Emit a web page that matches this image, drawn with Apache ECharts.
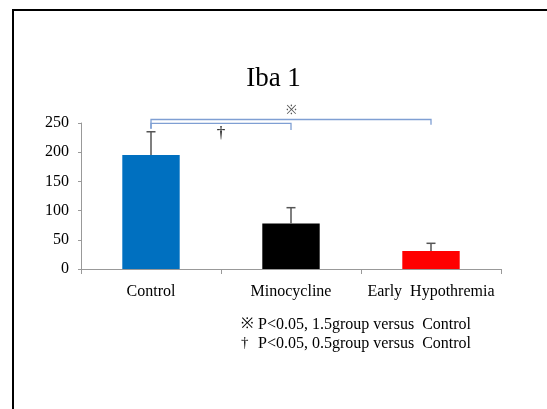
<!DOCTYPE html>
<html>
<head>
<meta charset="utf-8">
<script src="https://cdn.jsdelivr.net/npm/echarts@6/dist/echarts.min.js"></script>
<style>
  html, body { margin: 0; padding: 0; background: #fff; }
  #chart { width: 547px; height: 409px; }
</style>
</head>
<body>
<div id="chart"></div>
<script>
// data
const categories = ['Control', 'Minocycline', 'Early  Hypothremia']
const means = [195, 78, 31]
const errorTops = [235, 105, 44]
const barColors = ['#0070c0', '#000000', '#ff0000']
const yTicks = { min: 0, max: 250, interval: 50 }

// significance brackets: [fromCat, toCat, level, leftDrop, rightDrop, mark, markSide]
const brackets = [
  [0, 2, 256, 240, 247, '※', 'above'],
  [0, 1, 249.5, 240, 238, '†', 'below']
]
const footnotes = [
  ['※', 'P<0.05, 1.5group versus  Control'],
  ['†', 'P<0.05, 0.5group versus  Control']
]

const serif = '"Liberation Serif", "Times New Roman", serif'
const chart = echarts.init(document.getElementById('chart'))

const option = {
  animation: false,
  title: {
    text: 'Iba 1',
    left: 'center',
    top: 60,
    textStyle: { fontFamily: serif, fontSize: 27, fontWeight: 'normal', color: '#000' }
  },
  grid: { left: 81, right: 46, top: 123, bottom: 140 },
  xAxis: {
    type: 'category',
    data: categories,
    axisLine: { lineStyle: { color: '#999', width: 1 } },
    axisTick: { show: true, length: 5, lineStyle: { color: '#999' } },
    axisLabel: { interval: 0, fontFamily: serif, fontSize: 16, color: '#000', margin: 15 }
  },
  yAxis: {
    type: 'value',
    min: yTicks.min,
    max: yTicks.max,
    interval: yTicks.interval,
    splitLine: { show: false },
    axisLine: { show: true, lineStyle: { color: '#999', width: 1 } },
    axisTick: { show: true, length: 3, lineStyle: { color: '#999' } },
    axisLabel: { fontFamily: serif, fontSize: 16, color: '#000', margin: 12 }
  },
  graphic: [
    {
      type: 'rect',
      shape: { x: 13, y: 10, width: 700, height: 600 },
      style: { fill: 'none', stroke: '#000', lineWidth: 2 },
      z: 10
    },
    ...footnotes.map((f, i) => ({
      type: 'group',
      left: 241,
      top: 317 + i * 19,
      children: [
        { type: 'text', x: 0, y: 0, style: { text: f[0], font: '15px ' + serif, fill: '#000' } },
        { type: 'text', x: 17, y: 0, style: { text: f[1], font: '16px ' + serif, fill: '#000' } }
      ]
    }))
  ],
  series: [
    {
      type: 'bar',
      barWidth: '41%',
      data: means.map((v, i) => ({ value: v, itemStyle: { color: barColors[i] } })),
      z: 2
    },
    {
      type: 'custom',
      data: means.map((m, i) => [i, m, errorTops[i]]),
      renderItem: (params, api) => {
        const lo = api.coord([api.value(0), api.value(1)])
        const hi = api.coord([api.value(0), api.value(2)])
        const half = 4.5
        return {
          type: 'group',
          children: [
            { type: 'line', shape: { x1: lo[0], y1: lo[1], x2: hi[0], y2: hi[1] }, style: { stroke: '#555', lineWidth: 1.5 } },
            { type: 'line', shape: { x1: hi[0] - half, y1: hi[1], x2: hi[0] + half, y2: hi[1] }, style: { stroke: '#555', lineWidth: 1.5 } }
          ]
        }
      },
      z: 3
    },
    {
      type: 'custom',
      clip: false,
      data: brackets.map(b => b.slice(0, 5)),
      renderItem: (params, api) => {
        const b = brackets[params.dataIndex]
        const a = api.coord([b[0], b[2]])
        const c = api.coord([b[1], b[2]])
        const ld = api.coord([b[0], b[3]])
        const rd = api.coord([b[1], b[4]])
        const mx = (a[0] + c[0]) / 2
        const above = b[6] === 'above'
        return {
          type: 'group',
          children: [
            { type: 'polyline', shape: { points: [[ld[0], ld[1]], [a[0], a[1]], [c[0], c[1]], [rd[0], rd[1]]] }, style: { stroke: '#7f9fd3', lineWidth: 1.3, fill: 'none' } },
            { type: 'text', x: mx, y: above ? a[1] - 9 : a[1] + 10, style: { text: b[5], font: (above ? '13px ' : '17px ') + serif, fill: above ? '#555' : '#000', align: 'center', verticalAlign: 'middle' } }
          ]
        }
      },
      z: 4
    }
  ]
}
chart.setOption(option)
</script>
</body>
</html>
